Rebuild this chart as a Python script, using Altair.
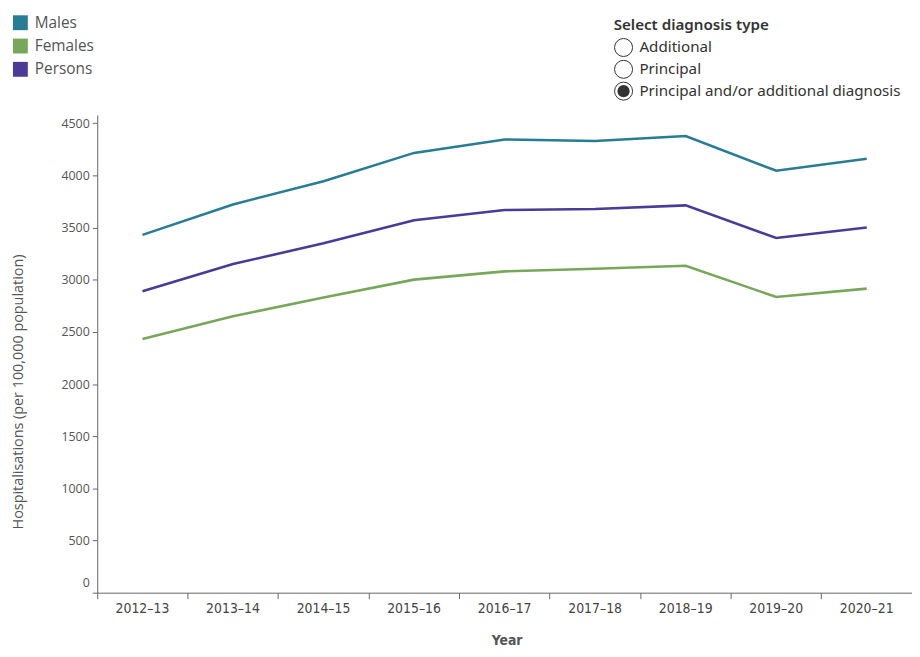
import altair as alt
import pandas as pd

years = ["2012–13", "2013–14", "2014–15", "2015–16", "2016–17",
         "2017–18", "2018–19", "2019–20", "2020–21"]
males = [3430, 3722, 3945, 4216, 4345, 4330, 4378, 4045, 4160]
females = [2431, 2650, 2830, 3001, 3080, 3105, 3134, 2835, 2915]
persons = [2890, 3150, 3350, 3571, 3668, 3678, 3713, 3400, 3500]
series = ["Males", "Females", "Persons"]
colors = ["#287c94", "#78a65a", "#4b3a96"]
y_ticks = [0, 500, 1000, 1500, 2000, 2500, 3000, 3500, 4000, 4500]
diag_options = ["Additional", "Principal", "Principal and/or additional diagnosis"]
selected_option = "Principal and/or additional diagnosis"

rows = []
for name, vals in zip(series, [males, females, persons]):
    for yr, v in zip(years, vals):
        rows.append({"Year": yr, "Series": name, "Value": v})
df = pd.DataFrame(rows)

W, H = 822, 482
FONT = "Open Sans"
NARROW = "Liberation Sans Narrow, DejaVu Sans Condensed, Open Sans"
color_scale = alt.Scale(domain=series, range=colors)

lines = alt.Chart(df).mark_line(strokeWidth=2.6).encode(
    x=alt.X("Year:N", sort=years,
            scale=alt.Scale(type="band", paddingInner=0, paddingOuter=0),
            axis=alt.Axis(title="Year", bandPosition=0,
                          labelAngle=0, tickSize=6, tickColor="#666",
                          domainColor="#666", labelColor="#444",
                          labelFont=NARROW, labelFontSize=14, labelPadding=3,
                          titleFont=NARROW, titleFontSize=14, titleFontWeight="bold",
                          titleColor="#555", titleX=413, titleAlign="center",
                          titleY=41, titleBaseline="top",
                          grid=False)),
    y=alt.Y("Value:Q",
            scale=alt.Scale(domain=[0, 4580], nice=False, zero=True),
            axis=alt.Axis(title="Hospitalisations (per 100,000 population)",
                          values=y_ticks, format="d", tickSize=5, tickColor="#666",
                          domainColor="#666", labelColor="#555",
                          labelFont=FONT, labelFontSize=12.5, labelPadding=3,
                          labelOffset={"condition": {"test": "datum.value === 0", "value": -10}, "value": 0},
                          titleFont=FONT, titleFontSize=14.5, titleFontWeight="normal",
                          titleColor="#555", titleX=-79, titleY=279,
                          titleAngle=270, titleBaseline="middle", titleAlign="center",
                          grid=False)),
    color=alt.Color("Series:N", sort=series, scale=color_scale, legend=None),
)

layers = [lines]

# Legend (top-left): colour squares drawn through the shared colour scale
lx, ly0, lstep = -77.5, -93, 23.5
for i, name in enumerate(series):
    d = pd.DataFrame({"Series": [name]})
    layers.append(alt.Chart(d).mark_square(size=225, filled=True, opacity=1).encode(
        color=alt.Color("Series:N", scale=color_scale, legend=None),
        x=alt.value(lx), y=alt.value(ly0 + lstep * i)))
    layers.append(alt.Chart(d).mark_text(
        align="left", baseline="middle", font=FONT, fontSize=15.5, color="#555").encode(
        text="Series:N", x=alt.value(lx + 14.5), y=alt.value(ly0 + lstep * i)))

# "Select diagnosis type" radio widget (decorative)
wx, wy0, wstep = 523, -68, 22
layers.append(alt.Chart(pd.DataFrame({"t": ["Select diagnosis type"]})).mark_text(
    align="left", baseline="middle", font="Noto Sans", fontSize=15.3,
    fontWeight=600, color="#333").encode(
    text="t:N", x=alt.value(wx - 2), y=alt.value(wy0 - 23)))
for i, opt in enumerate(diag_options):
    yy = wy0 + wstep * i
    d = pd.DataFrame({"t": [opt]})
    layers.append(alt.Chart(d).mark_point(shape="circle", size=330, filled=True,
                                          fill="white", stroke="#333",
                                          strokeWidth=1, opacity=1).encode(
        x=alt.value(wx + 8), y=alt.value(yy)))
    if opt == selected_option:
        layers.append(alt.Chart(d).mark_point(shape="circle", size=150, filled=True,
                                              fill="#333", opacity=1).encode(
            x=alt.value(wx + 8), y=alt.value(yy)))
    layers.append(alt.Chart(d).mark_text(
        align="left", baseline="middle", font="Noto Sans", fontSize=15.3,
        color="#333").encode(text="t:N", x=alt.value(wx + 24), y=alt.value(yy)))

chart = alt.layer(*layers).properties(
    width=W, height=H,
    autosize=alt.AutoSizeParams(type="none"),
    padding={"left": 90, "top": 105, "right": 0, "bottom": 60},
).configure_view(stroke=None)

chart.save("out.html", embed_options={"renderer": "svg", "actions": False})
